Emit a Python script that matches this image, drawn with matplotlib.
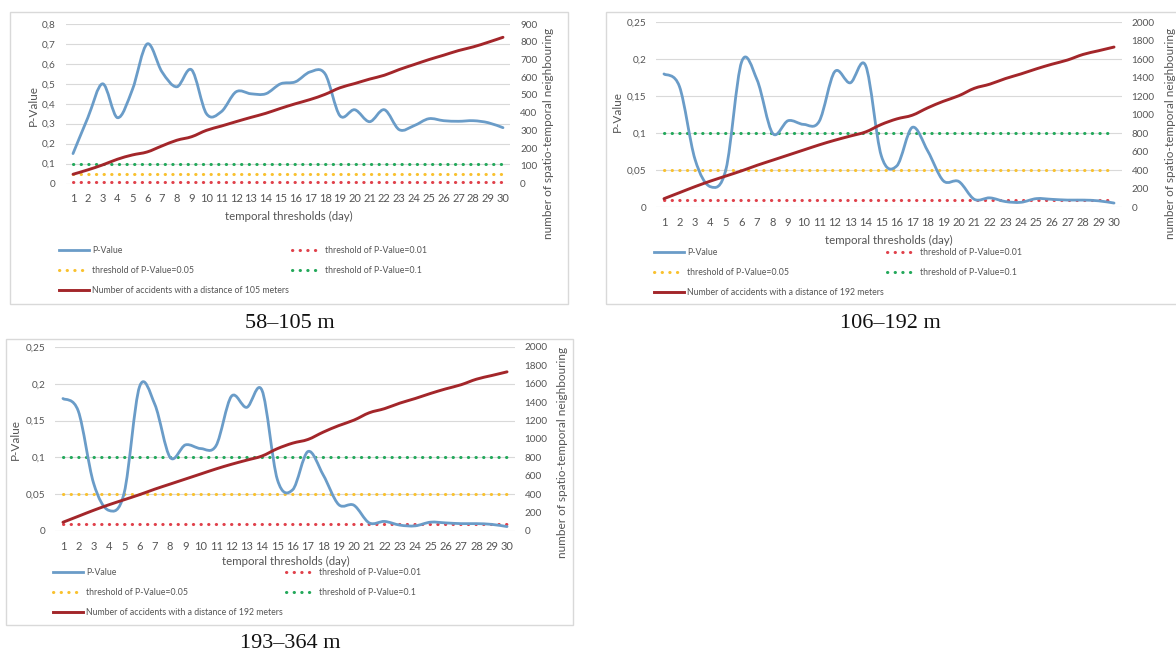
import numpy as np
import matplotlib
matplotlib.use('Agg')
import matplotlib.pyplot as plt
from matplotlib.path import Path
from matplotlib.patches import PathPatch, Rectangle
from matplotlib.lines import Line2D
from matplotlib.ticker import FixedLocator, FuncFormatter

# ---------------- data ----------------
days = list(range(1, 31))

pval_105 = [0.15, 0.33, 0.50, 0.33, 0.47, 0.70, 0.56, 0.485, 0.57, 0.35,
            0.36, 0.46, 0.45, 0.45, 0.50, 0.51, 0.56, 0.55, 0.34, 0.37,
            0.31, 0.37, 0.27, 0.29, 0.325, 0.315, 0.312, 0.315, 0.305, 0.28]
count_105 = [52, 77, 105, 137, 161, 178, 212, 244, 264, 300,
             324, 349, 373, 396, 424, 450, 474, 503, 540, 564,
             589, 611, 643, 671, 699, 724, 750, 771, 797, 825]

pval_192 = [0.18, 0.163, 0.065, 0.028, 0.052, 0.196, 0.172, 0.100, 0.117, 0.112,
            0.116, 0.183, 0.168, 0.191, 0.070, 0.056, 0.108, 0.076, 0.036, 0.035,
            0.011, 0.013, 0.008, 0.007, 0.012, 0.011, 0.010, 0.010, 0.009, 0.006]
count_192 = [95, 160, 225, 285, 340, 395, 455, 510, 565, 620,
             675, 725, 770, 815, 895, 955, 995, 1075, 1145, 1205,
             1285, 1330, 1390, 1440, 1495, 1545, 1590, 1650, 1690, 1730]

pval_364 = [0.18, 0.163, 0.065, 0.028, 0.052, 0.196, 0.172, 0.100, 0.117, 0.112,
            0.116, 0.183, 0.168, 0.191, 0.070, 0.056, 0.108, 0.076, 0.036, 0.035,
            0.011, 0.013, 0.008, 0.007, 0.012, 0.011, 0.010, 0.010, 0.009, 0.006]
count_364 = [95, 160, 225, 285, 340, 395, 455, 510, 565, 620,
             675, 725, 770, 815, 895, 955, 995, 1075, 1145, 1205,
             1285, 1330, 1390, 1440, 1495, 1545, 1590, 1650, 1690, 1730]

thresholds = [0.01, 0.05, 0.1]
threshold_labels = ['threshold of P-Value=0.01', 'threshold of P-Value=0.05',
                    'threshold of P-Value=0.1']
count_labels = ['Number of accidents with a distance of 105 meters',
                'Number of accidents with a distance of 192 meters',
                'Number of accidents with a distance of 192 meters']
captions = ['58\u2013105 m', '106\u2013192 m', '193\u2013364 m']

left_ticks_1 = [0, 0.1, 0.2, 0.3, 0.4, 0.5, 0.6, 0.7, 0.8]
left_ticks_2 = [0, 0.05, 0.1, 0.15, 0.2, 0.25]
right_ticks_1 = [0, 100, 200, 300, 400, 500, 600, 700, 800, 900]
right_ticks_2 = [0, 200, 400, 600, 800, 1000, 1200, 1400, 1600, 1800, 2000]

# ---------------- style ----------------
W, H = 1176, 655
plt.rcParams['font.family'] = ['Lato', 'DejaVu Sans']
GREY = '#555555'
GRID = '#D9D9D9'
BLUE = '#6A9CC8'
DARKRED = '#A3262A'
RED_DOT = '#E0404A'
YELLOW = '#F9C12E'
GREEN = '#22A85A'
thr_colors = [RED_DOT, YELLOW, GREEN]
DOT = (0, (0.1, 2.4))
DOT_LW = 2.2

fig = plt.figure(figsize=(W / 100, H / 100), dpi=100)


def fx(px):
    return px / W


def fy(py):
    return 1 - py / H


def smooth_path(x, y):
    pts = np.column_stack([x, y]).astype(float)
    n = len(pts)
    verts = [pts[0]]
    codes = [Path.MOVETO]
    for i in range(n - 1):
        p0 = pts[i - 1] if i > 0 else pts[i]
        p1 = pts[i]
        p2 = pts[i + 1]
        p3 = pts[i + 2] if i + 2 < n else pts[i + 1]
        c1 = p1 + (p2 - p0) / 6.0
        c2 = p2 - (p3 - p1) / 6.0
        verts += [c1, c2, p2]
        codes += [Path.CURVE4] * 3
    return Path(verts, codes)


def comma_fmt(v, pos=None):
    s = ('%g' % v)
    return s.replace('.', ',')


panels = [
    dict(pval=pval_105, count=count_105, lticks=left_ticks_1, rticks=right_ticks_1,
         ylim=(0, 0.8), rlim=(0, 900), label=count_labels[0], caption=captions[0],
         box=(10, 12, 568, 304), ax=(65.6, 24, 510.4, 183.5),
         ylab=(33, 106), rylab=(549, 133), xlab=(289, 216),
         leg=(59, 246), cap=(290, 323)),
    dict(pval=pval_192, count=count_192, lticks=left_ticks_2, rticks=right_ticks_2,
         ylim=(0, 0.25), rlim=(0, 2000), label=count_labels[1], caption=captions[1],
         box=(606, 12, 1190, 304), ax=(656.2, 22, 1121.8, 207.5),
         ylab=(617, 112), rylab=(1170, 133), xlab=(889, 240),
         leg=(654, 248), cap=(890, 323)),
    dict(pval=pval_364, count=count_364, lticks=left_ticks_2, rticks=right_ticks_2,
         ylim=(0, 0.25), rlim=(0, 2000), label=count_labels[2], caption=captions[2],
         box=(6, 339, 573, 625), ax=(55.3, 347, 514.7, 531),
         ylab=(15, 440), rylab=(563, 452), xlab=(286, 561),
         leg=(53, 568), cap=(290, 643)),
]

for p in panels:
    bx0, by0, bx1, by1 = p['box']
    fig.add_artist(Rectangle((fx(bx0), fy(by1)), fx(bx1 - bx0), (by1 - by0) / H,
                             transform=fig.transFigure, fill=False,
                             edgecolor=GRID, lw=1.0, zorder=0))
    x0, y0, x1, y1 = p['ax']
    ax = fig.add_axes([fx(x0), fy(y1), fx(x1 - x0), (y1 - y0) / H])
    ax.set_facecolor('none')
    ax.set_xlim(0.5, 30.5)
    ax.set_ylim(*p['ylim'])
    for s in ax.spines.values():
        s.set_visible(False)
    ax.yaxis.set_major_locator(FixedLocator(p['lticks']))
    ax.yaxis.set_major_formatter(FuncFormatter(comma_fmt))
    ax.set_xticks(days)
    ax.set_xticklabels([str(d) for d in days])
    ax.tick_params(axis='x', length=0, pad=7, labelsize=8, labelcolor=GREY)
    ax.tick_params(axis='y', length=0, pad=7, labelsize=7.2, labelcolor=GREY)
    ax.grid(axis='y', color=GRID, lw=0.8)
    ax.set_axisbelow(True)

    for t, c in zip(thresholds, thr_colors):
        ax.hlines(t, days[0], days[-1], colors=c, lw=DOT_LW,
                  linestyles=[DOT], capstyle='round', zorder=2)
    ax.add_patch(PathPatch(smooth_path(days, p['pval']), fill=False,
                           edgecolor=BLUE, lw=2.0, capstyle='round',
                           joinstyle='round', zorder=3))

    ax2 = ax.twinx()
    ax2.set_xlim(0.5, 30.5)
    ax2.set_ylim(*p['rlim'])
    for s in ax2.spines.values():
        s.set_visible(False)
    ax2.yaxis.set_major_locator(FixedLocator(p['rticks']))
    ax2.tick_params(axis='y', length=0, pad=7, labelsize=7.2, labelcolor=GREY)
    ax2.add_patch(PathPatch(smooth_path(days, p['count']), fill=False,
                            edgecolor=DARKRED, lw=2.1, capstyle='round',
                            joinstyle='round', zorder=4))

    fig.text(fx(p['ylab'][0]), fy(p['ylab'][1]), 'P-Value', rotation=90,
             ha='center', va='center', fontsize=8.5, color=GREY)
    fig.text(fx(p['rylab'][0]), fy(p['rylab'][1]),
             'number of spatio-temporal neighbouring', rotation=90,
             ha='center', va='center', fontsize=8.5, color=GREY)
    fig.text(fx(p['xlab'][0]), fy(p['xlab'][1]), 'temporal thresholds (day)',
             ha='center', va='center', fontsize=8.3, color=GREY)

    handles = [
        Line2D([], [], color=BLUE, lw=2.0),
        Line2D([], [], color=thr_colors[1], lw=DOT_LW, linestyle=DOT,
               dash_capstyle='round'),
        Line2D([], [], color=DARKRED, lw=2.1),
        Line2D([], [], color=thr_colors[0], lw=DOT_LW, linestyle=DOT,
               dash_capstyle='round'),
        Line2D([], [], color=thr_colors[2], lw=DOT_LW, linestyle=DOT,
               dash_capstyle='round'),
    ]
    labels = ['P-Value', threshold_labels[1], p['label'],
              threshold_labels[0], threshold_labels[2]]
    lx, ly = p['leg']
    fig.legend(handles, labels, ncol=2, loc='upper left',
               bbox_to_anchor=(fx(lx), fy(ly)), frameon=False,
               fontsize=6.3, handlelength=3.4, handletextpad=0.35,
               columnspacing=0.4, labelspacing=1.25, borderpad=0,
               borderaxespad=0, labelcolor=GREY)

    fig.text(fx(p['cap'][0]), fy(p['cap'][1]), p['caption'], ha='center',
             va='center', fontsize=16, family=['Liberation Serif', 'DejaVu Serif'],
             color='#111111')

fig.savefig('out.png', dpi=100, facecolor='white')
